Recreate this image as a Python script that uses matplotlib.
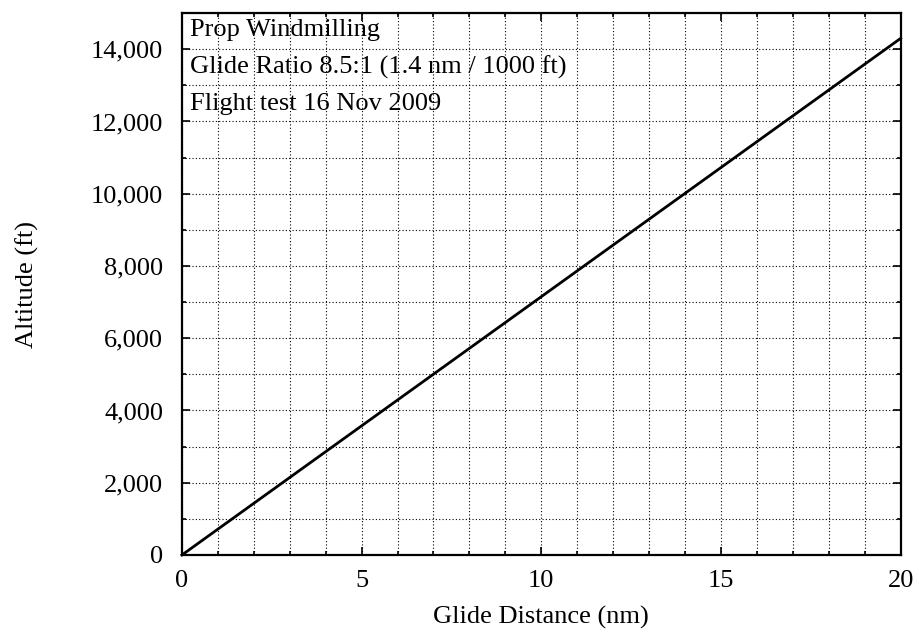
import numpy as np
import matplotlib
matplotlib.use('Agg')
import matplotlib.pyplot as plt
from matplotlib.ticker import MultipleLocator, FuncFormatter

# glide data (prop windmilling, 8.5:1)
distance_nm = [0, 20]
altitude_ft = [0, 14300]

notes = ['Prop Windmilling',
         'Glide Ratio 8.5:1 (1.4 nm / 1000 ft)',
         'Flight test 16 Nov 2009']

plt.rcParams['font.family'] = 'serif'
plt.rcParams['font.serif'] = ['Liberation Serif', 'DejaVu Serif']
plt.rcParams['font.size'] = 19

fig = plt.figure(figsize=(9.19, 6.39), dpi=100)
ax = fig.add_axes([0.198, 0.1315, 0.782, 0.848])

ax.plot(distance_nm, altitude_ft, color='black', lw=2, zorder=3, clip_on=False)

ax.set_xlim(0, 20)
ax.set_ylim(0, 15000)
ax.xaxis.set_major_locator(MultipleLocator(5))
ax.xaxis.set_minor_locator(MultipleLocator(1))
ax.yaxis.set_major_locator(MultipleLocator(2000))
ax.yaxis.set_minor_locator(MultipleLocator(1000))
ax.yaxis.set_major_formatter(FuncFormatter(lambda v, p: f'{int(v):,}'))

ax.grid(which='both', color='black', linestyle=(0, (1, 2)), linewidth=0.8)
ax.tick_params(which='both', direction='in', top=True, right=True, width=1.2)
ax.tick_params(which='major', length=6)
ax.tick_params(which='minor', length=3)
ax.tick_params(axis='x', which='major', pad=11)
ax.tick_params(axis='y', which='major', pad=13.5)
for s in ax.spines.values():
    s.set_linewidth(1.6)

for i, t in enumerate(notes):
    ax.text(0.011, 0.969 - i * 0.0685, t, transform=ax.transAxes,
            va='center', ha='left', fontsize=19)

ax.set_xlabel('Glide Distance (nm)', labelpad=10)
ax.set_ylabel('Altitude (ft)', labelpad=37)

fig.savefig('out.png', dpi=100)
